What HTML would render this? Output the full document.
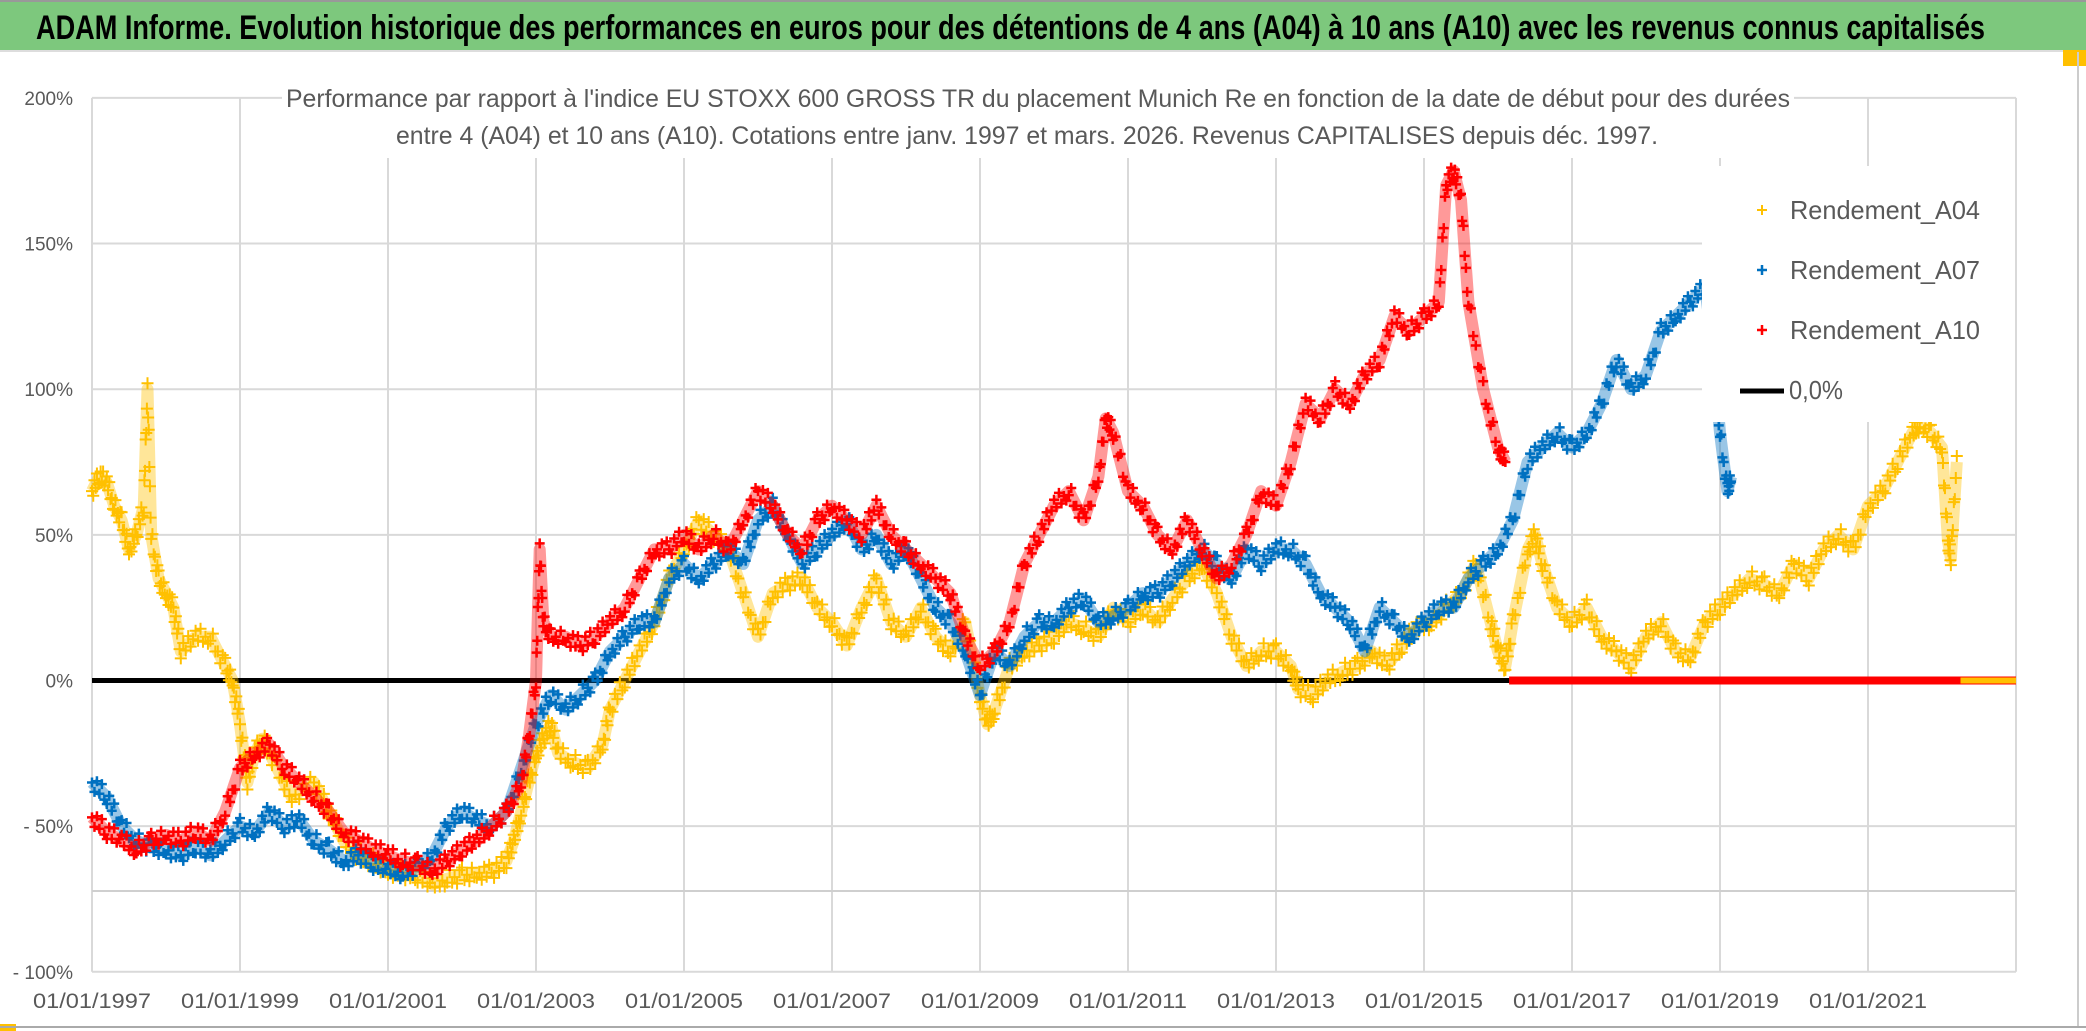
<!DOCTYPE html>
<html><head><meta charset="utf-8"><title>ADAM Informe - Munich Re</title>
<style>
html,body{margin:0;padding:0;background:#fff;}
svg{display:block;font-family:"Liberation Sans",sans-serif;}
</style></head>
<body>
<svg id="chart" width="2086" height="1031" viewBox="0 0 2086 1031" xmlns="http://www.w3.org/2000/svg">
  <rect x="0" y="0" width="2086" height="1031" fill="#fff"/>
  <rect x="0" y="0" width="2086" height="50" fill="#7dc87d"/>
  <line x1="0" y1="1" x2="2086" y2="1" stroke="#999" stroke-width="2"/>
  <line x1="0" y1="51" x2="2086" y2="51" stroke="#ddd" stroke-width="2"/>
  <rect x="2063" y="50" width="23" height="16" fill="#ffc000"/>
  <rect x="0" y="1024" width="16" height="7" fill="#ffc000"/>
  <text x="36" y="39" font-size="34" font-weight="bold" fill="#000" textLength="1949" lengthAdjust="spacingAndGlyphs">ADAM Informe. Evolution historique des performances en euros pour des détentions de 4 ans (A04) à 10 ans (A10) avec les revenus connus capitalisés</text>
  <line x1="2078" y1="52" x2="2078" y2="1028" stroke="#ccc" stroke-width="2"/>
  <line x1="0" y1="1027" x2="2086" y2="1027" stroke="#aaa" stroke-width="2"/>
  <g id="grid"></g>
  <line x1="92" y1="891" x2="2015" y2="891" stroke="#cfcfcf" stroke-width="2"/>
  <g id="yaxis"></g>
  <g id="xaxis"></g>
  <line id="zeroLine" stroke="#000" stroke-width="5"/>
  <g id="series"></g>
  <rect x="282" y="80" width="1512" height="78" fill="#fff"/>
  <text x="286" y="107" font-size="25" fill="#595959" textLength="1504" lengthAdjust="spacingAndGlyphs">Performance par rapport à l'indice EU STOXX 600 GROSS TR  du placement Munich Re en fonction de la date de début pour des durées</text>
  <text x="396" y="144" font-size="25" fill="#595959" textLength="1262" lengthAdjust="spacingAndGlyphs">entre 4 (A04) et 10 ans (A10). Cotations entre janv. 1997 et mars. 2026. Revenus CAPITALISES depuis déc. 1997.</text>
  <g>
    <rect x="1702" y="166" width="313" height="256" fill="#fff"/>
    <g>
      <path d="M1757 210h10M1762 205v10" stroke="#ffc000" stroke-width="2"/>
      <text x="1790" y="219" font-size="26" fill="#595959" textLength="190" lengthAdjust="spacingAndGlyphs">Rendement_A04</text>
    </g>
    <g>
      <path d="M1757 270h10M1762 265v10" stroke="#0070c0" stroke-width="2.5"/>
      <text x="1790" y="279" font-size="26" fill="#595959" textLength="190" lengthAdjust="spacingAndGlyphs">Rendement_A07</text>
    </g>
    <g>
      <path d="M1757 330h10M1762 325v10" stroke="#ff0000" stroke-width="2.5"/>
      <text x="1790" y="339" font-size="26" fill="#595959" textLength="190" lengthAdjust="spacingAndGlyphs">Rendement_A10</text>
    </g>
    <g>
      <line x1="1740" y1="391" x2="1784" y2="391" stroke="#000" stroke-width="5"/>
      <text x="1789" y="399" font-size="26" fill="#595959" textLength="54" lengthAdjust="spacingAndGlyphs">0,0%</text>
    </g>
  </g>
</svg>
<script>
const yTicks = [200, 150, 100, 50, 0, -50, -100];
const yTickLabels = ["200%", "150%", "100%", "50%", "0%", "- 50%", "- 100%"];
const xTicks = [1997, 1999, 2001, 2003, 2005, 2007, 2009, 2011, 2013, 2015, 2017, 2019, 2021, 2023];
const xTickLabels = ["01/01/1997","01/01/1999","01/01/2001","01/01/2003","01/01/2005","01/01/2007","01/01/2009","01/01/2011","01/01/2013","01/01/2015","01/01/2017","01/01/2019","01/01/2021",""];

const a04Dates = [1997.0,1997.1,1997.2,1997.3,1997.4,1997.5,1997.6,1997.7,1997.75,1997.8,1997.9,1998.0,1998.1,1998.2,1998.4,1998.6,1998.8,1998.9,1999.0,1999.1,1999.2,1999.3,1999.5,1999.7,2000.0,2000.2,2000.4,2000.6,2000.8,2001.0,2001.2,2001.4,2001.6,2001.8,2002.0,2002.2,2002.4,2002.6,2002.7,2002.8,2002.9,2003.0,2003.1,2003.2,2003.3,2003.5,2003.7,2003.9,2004.0,2004.2,2004.4,2004.6,2004.8,2005.0,2005.2,2005.4,2005.6,2005.8,2006.0,2006.2,2006.4,2006.6,2006.8,2007.0,2007.2,2007.4,2007.6,2007.8,2008.0,2008.2,2008.4,2008.6,2008.8,2009.0,2009.1,2009.2,2009.4,2009.6,2009.8,2010.0,2010.2,2010.4,2010.6,2010.8,2011.0,2011.2,2011.4,2011.6,2011.8,2012.0,2012.2,2012.4,2012.6,2012.8,2013.0,2013.2,2013.3,2013.5,2013.7,2013.9,2014.1,2014.3,2014.5,2014.7,2014.9,2015.1,2015.3,2015.5,2015.7,2015.9,2016.0,2016.1,2016.2,2016.4,2016.5,2016.6,2016.8,2017.0,2017.2,2017.4,2017.6,2017.8,2018.0,2018.2,2018.4,2018.6,2018.8,2019.0,2019.2,2019.4,2019.6,2019.8,2020.0,2020.2,2020.4,2020.6,2020.8,2021.0,2021.2,2021.4,2021.6,2021.7,2021.85,2022.0,2022.08,2022.12,2022.2];
const a04Values = [65,70,68,60,55,45,50,60,100,50,35,30,25,10,15,15,5,0,-15,-35,-25,-20,-30,-40,-35,-45,-55,-60,-62,-65,-66,-67,-70,-68,-67,-66,-66,-62,-55,-45,-35,-25,-20,-15,-25,-28,-30,-22,-10,0,10,20,35,45,55,50,45,30,15,30,33,35,25,20,12,25,35,20,15,25,15,10,20,-5,-15,-10,5,10,12,15,20,18,15,25,20,25,20,28,35,40,30,15,5,10,10,5,-3,-5,0,3,5,10,5,12,18,20,25,30,40,20,10,5,20,45,50,40,25,20,25,15,10,5,15,20,10,8,20,25,30,35,33,30,40,35,45,50,45,60,65,75,85,88,85,80,48,42,75];
const a04ZeroDates = [2022.25, 2023.0];

const a07Dates = [1997.0,1997.2,1997.4,1997.6,1997.8,1998.0,1998.2,1998.4,1998.6,1998.8,1999.0,1999.2,1999.4,1999.6,1999.8,2000.0,2000.2,2000.4,2000.6,2000.8,2001.0,2001.2,2001.4,2001.6,2001.8,2002.0,2002.2,2002.4,2002.6,2002.8,2003.0,2003.2,2003.4,2003.6,2003.8,2004.0,2004.2,2004.4,2004.6,2004.8,2005.0,2005.2,2005.4,2005.6,2005.8,2006.0,2006.2,2006.4,2006.6,2006.8,2007.0,2007.2,2007.4,2007.6,2007.8,2008.0,2008.2,2008.4,2008.6,2008.8,2009.0,2009.2,2009.4,2009.6,2009.8,2010.0,2010.2,2010.4,2010.6,2010.8,2011.0,2011.2,2011.4,2011.6,2011.8,2012.0,2012.2,2012.4,2012.6,2012.8,2013.0,2013.2,2013.4,2013.6,2013.8,2014.0,2014.2,2014.4,2014.6,2014.8,2015.0,2015.2,2015.4,2015.6,2015.8,2016.0,2016.2,2016.4,2016.6,2016.8,2017.0,2017.2,2017.4,2017.6,2017.8,2018.0,2018.2,2018.4,2018.6,2018.8,2018.9,2019.0,2019.1,2019.15];
const a07Values = [-35,-40,-50,-55,-57,-58,-60,-57,-60,-55,-50,-52,-45,-50,-48,-55,-58,-62,-60,-63,-65,-66,-64,-60,-50,-45,-48,-50,-45,-30,-15,-5,-10,-5,0,10,15,20,20,35,40,35,40,45,40,55,60,50,40,45,50,55,45,50,40,45,35,25,20,10,-5,10,5,15,20,20,25,28,20,22,25,30,30,35,40,45,40,35,45,40,45,45,40,30,25,20,10,25,20,15,20,25,25,35,40,45,55,75,80,85,80,85,95,110,100,105,120,125,130,135,115,85,65,70];

const a10Dates = [1997.0,1997.2,1997.4,1997.6,1997.8,1998.0,1998.2,1998.4,1998.6,1998.8,1999.0,1999.2,1999.4,1999.6,1999.8,2000.0,2000.2,2000.4,2000.6,2000.8,2001.0,2001.2,2001.4,2001.6,2001.8,2002.0,2002.2,2002.4,2002.6,2002.8,2002.9,2003.0,2003.05,2003.1,2003.2,2003.4,2003.6,2003.8,2004.0,2004.2,2004.4,2004.6,2004.8,2005.0,2005.2,2005.4,2005.6,2005.8,2006.0,2006.2,2006.4,2006.6,2006.8,2007.0,2007.2,2007.4,2007.6,2007.8,2008.0,2008.2,2008.4,2008.6,2008.8,2009.0,2009.2,2009.4,2009.6,2009.8,2010.0,2010.2,2010.4,2010.6,2010.7,2010.8,2011.0,2011.2,2011.4,2011.6,2011.8,2012.0,2012.2,2012.4,2012.6,2012.8,2013.0,2013.2,2013.4,2013.6,2013.8,2014.0,2014.2,2014.4,2014.6,2014.8,2015.0,2015.2,2015.3,2015.4,2015.5,2015.6,2015.8,2016.0,2016.1];
const a10Values = [-47,-52,-55,-58,-55,-53,-55,-52,-55,-45,-30,-25,-22,-30,-35,-40,-45,-52,-55,-58,-60,-62,-63,-65,-62,-58,-55,-50,-45,-35,-20,0,45,20,15,15,12,15,20,25,35,45,45,50,45,50,45,55,65,60,50,45,55,60,55,50,60,50,45,40,35,30,15,5,10,20,40,50,60,65,55,70,90,85,65,60,50,45,55,45,35,40,50,65,60,75,95,90,100,95,105,110,125,120,125,130,170,175,165,130,100,80,75];
const a10ZeroDates = [2016.15, 2023.0];

const X0 = 92, PX_PER_YEAR = 74, YBASE = 680.5, PX_PER_PCT = 2.913;
function xScale(year){ return X0 + (year - 1997) * PX_PER_YEAR; }
function yScale(v){ return YBASE - v * PX_PER_PCT; }

const NS = "http://www.w3.org/2000/svg";
function mk(tag, attrs, parent){
  const el = document.createElementNS(NS, tag);
  for (const k in attrs) el.setAttribute(k, attrs[k]);
  parent.appendChild(el);
  return el;
}

const grid = document.getElementById('grid');
yTicks.forEach(function(t){
  const l = mk('line', {x1: xScale(1997), x2: xScale(2023), y1: yScale(t), y2: yScale(t), stroke: '#d9d9d9', 'stroke-width': 2}, grid);
  
  
});
xTicks.forEach(function(t){
  const l = mk('line', {x1: xScale(t), x2: xScale(t), y1: yScale(200), y2: yScale(-100), stroke: '#d9d9d9', 'stroke-width': 2}, grid);
  
  
});

const yaxis = document.getElementById('yaxis');
yTicks.forEach(function(t, i){
  const tx = mk('text', {x: 73, y: yScale(t) + 7, 'font-size': 19, fill: '#595959', 'text-anchor': 'end'}, yaxis);
  tx.textContent = yTickLabels[i];
  
  
});
const xaxis = document.getElementById('xaxis');
xTicks.forEach(function(t, i){
  if (!xTickLabels[i]) return;
  const tx = mk('text', {x: xScale(t), y: 1008, 'font-size': 21, fill: '#595959', 'text-anchor': 'middle', textLength: 118, lengthAdjust: 'spacingAndGlyphs'}, xaxis);
  tx.textContent = xTickLabels[i];
  
  
});

const zl = document.getElementById('zeroLine');
zl.setAttribute('x1', xScale(1997));
zl.setAttribute('x2', xScale(2023));
zl.setAttribute('y1', yScale(0));
zl.setAttribute('y2', yScale(0));

const seriesLayer = document.getElementById('series');
function drawSeries(name, dates, values, color, sw, size){
  const g = mk('g', {}, seriesLayer);
  
  
  let pts = dates.map(function(d, i){ return xScale(d) + ',' + yScale(values[i]); }).join(' ');
  mk('polyline', {points: pts, fill: 'none', stroke: color, 'stroke-width': 12, 'stroke-linejoin': 'round', opacity: 0.4}, g);
  const offs = [0, 7, -6, 4, -8, 5];
  let d = '';
  for (let i = 0; i < dates.length; i++){
    const steps = (i < dates.length - 1) ? 6 : 1;
    for (let s = 0; s < steps; s++){
      const f = s / steps;
      const yr = i < dates.length - 1 ? dates[i] + (dates[i+1] - dates[i]) * f : dates[i];
      const v = i < dates.length - 1 ? values[i] + (values[i+1] - values[i]) * f : values[i];
      const off = offs[(i + s) % offs.length];
      const cx = xScale(yr), cy = yScale(v) + off;
      d += 'M' + (cx - size) + ' ' + cy + 'h' + (2 * size) + 'M' + cx + ' ' + (cy - size) + 'v' + (2 * size);
    }
  }
  const p = mk('path', {d: d, stroke: color, 'stroke-width': sw, fill: 'none'}, g);
  
  
}
function drawZero(name, dates, color, h){
  const r = mk('rect', {x: xScale(dates[0]), y: yScale(0) - h / 2, width: xScale(dates[1]) - xScale(dates[0]), height: h, fill: color}, seriesLayer);
  
  
}
drawSeries('series-a04', a04Dates, a04Values, '#ffc000', 2, 6);
drawSeries('series-a07', a07Dates, a07Values, '#0070c0', 2.5, 5);
drawSeries('series-a10', a10Dates, a10Values, '#ff0000', 2.5, 5);
drawZero('series-a10-zero', a10ZeroDates, '#ff0000', 8);
drawZero('series-a04-zero', a04ZeroDates, '#ffc000', 6);
</script>
</body></html>
